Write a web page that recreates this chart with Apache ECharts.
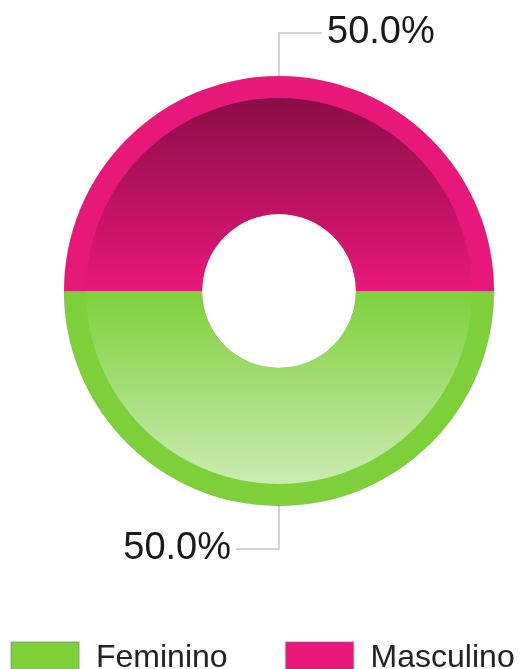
<!DOCTYPE html>
<html>
<head>
<meta charset="utf-8">
<script src="https://cdn.jsdelivr.net/npm/echarts@6/dist/echarts.min.js"></script>
<style>
  html, body { margin: 0; padding: 0; background: #fff; }
  #chart { width: 523px; height: 669px; }
</style>
</head>
<body>
<div id="chart"></div>
<script>
// dados
var categories = ['Feminino', 'Masculino'];
var values = [50, 50];
var baseColors = ['#7ED03A', '#E8177A'];
var lightColors = [['#7ED03A', '#CBEBB3'], ['#8A0D46', '#E8177A']];

var chart = echarts.init(document.getElementById('chart'));

var ringData = categories.map(function (name, i) {
  return { name: name, value: values[i], itemStyle: { color: baseColors[i] } };
});

var innerData = categories.map(function (name, i) {
  return {
    name: name,
    value: values[i],
    itemStyle: {
      color: new echarts.graphic.LinearGradient(0, 0, 0, 1, [
        { offset: 0, color: lightColors[i][0] },
        { offset: 1, color: lightColors[i][1] }
      ])
    }
  };
});

chart.setOption({
  animation: false,
  legend: {
    data: categories,
    left: 5,
    top: 636,
    itemWidth: 68,
    itemHeight: 32,
    itemGap: 57,
    icon: 'rect',
    textStyle: { fontSize: 32, color: '#222', fontFamily: 'Liberation Sans', padding: [0, 0, 0, 12] }
  },
  series: [
    {
      type: 'pie',
      center: [279, 291],
      radius: [77, 215],
      startAngle: 0,
      data: ringData,
      itemStyle: { borderColor: 'rgba(120,120,120,0.35)', borderWidth: 0.5 },
      label: {
        show: true,
        position: 'outside',
        formatter: function (p) { return p.percent.toFixed(1) + '%'; },
        fontSize: 38,
        color: '#1a1a1a',
        fontFamily: 'Liberation Sans'
      },
      labelLine: {
        show: true,
        length: 43,
        length2: 43,
        smooth: false,
        lineStyle: { color: '#c8c8c8', width: 1.5 }
      },
      emphasis: { disabled: true }
    },
    {
      type: 'pie',
      center: [279, 291],
      radius: [77, 193],
      startAngle: 0,
      data: innerData,
      label: { show: false },
      labelLine: { show: false },
      silent: true,
      legendHoverLink: false
    }
  ]
});
</script>
</body>
</html>
